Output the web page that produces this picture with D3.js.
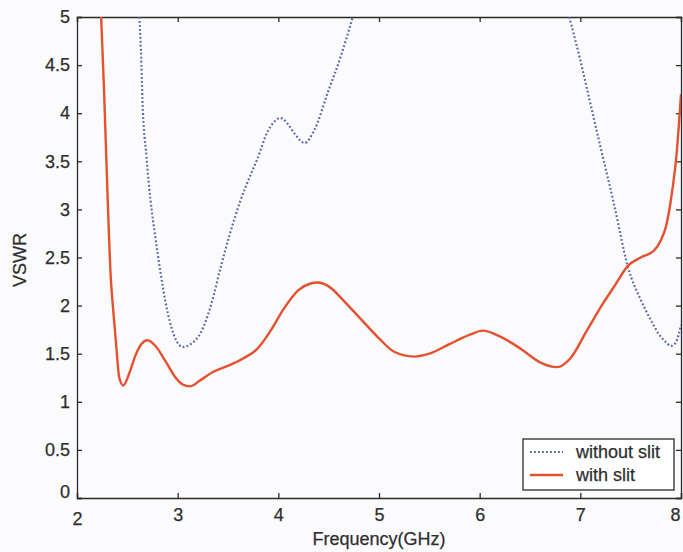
<!DOCTYPE html>
<html><head><meta charset="utf-8">
<script src="https://cdn.jsdelivr.net/npm/d3@7"></script>
<style>
body{margin:0;background:#fbfbfd;}
svg{display:block;}
text{font-family:"Liberation Sans",Arial,sans-serif;fill:#2e2e2e;stroke:#2e2e2e;stroke-width:0.25px;}
</style></head><body>
<svg id="chart" width="683" height="552"></svg>
<script>
// Data
const xTicks = [2,3,4,5,6,7,8];
const yTicks = [0,0.5,1,1.5,2,2.5,3,3.5,4,4.5,5];
const seriesNames = ["without slit","with slit"];
// without slit (null = gap where curve is above 5)
const freqWithout = [2.62,2.64,2.65,2.69,2.73,2.78,2.82,2.90,2.98,3.05,3.13,3.23,3.33,3.43,3.52,3.62,3.72,3.79,3.89,3.95,4.02,4.10,4.16,4.26,4.36,4.49,4.62,4.74,null,6.89,7.00,7.10,7.20,7.34,7.47,7.60,7.70,7.77,7.85,7.90,7.95,8.00];
const vswrWithout = [5.0,4.5,4.14,3.55,3.10,2.70,2.41,1.93,1.65,1.57,1.60,1.72,2.00,2.41,2.75,3.08,3.35,3.52,3.80,3.90,3.95,3.88,3.79,3.69,3.83,4.21,4.59,5.0,null,5.0,4.55,4.10,3.65,3.03,2.41,2.06,1.85,1.72,1.62,1.58,1.62,1.80];
// with slit
const freqWith = [2.24,2.27,2.305,2.335,2.36,2.39,2.42,2.46,2.52,2.58,2.64,2.70,2.78,2.88,2.98,3.05,3.12,3.22,3.35,3.49,3.65,3.79,3.93,4.05,4.20,4.32,4.39,4.50,4.65,4.82,5.00,5.15,5.35,5.50,5.70,5.91,6.03,6.20,6.41,6.60,6.77,6.90,7.07,7.23,7.35,7.47,7.60,7.73,7.80,7.85,7.90,7.96,8.00];
const vswrWith = [5.0,4.2,3.1,2.3,1.95,1.58,1.25,1.17,1.30,1.48,1.60,1.64,1.58,1.42,1.25,1.18,1.16,1.22,1.31,1.37,1.45,1.55,1.75,1.96,2.16,2.23,2.24,2.20,2.05,1.86,1.66,1.52,1.47,1.50,1.60,1.70,1.74,1.68,1.55,1.41,1.36,1.45,1.75,2.03,2.22,2.41,2.50,2.57,2.68,2.82,3.10,3.62,4.20];

const L=77,R=681,T=17,B=498;
const svg=d3.select("#chart");
const x=d3.scaleLinear().domain([2,8]).range([L,R]);
const y=d3.scaleLinear().domain([0,5]).range([B,T]);

svg.append("defs").append("clipPath").attr("id","clip")
  .append("rect").attr("x",L).attr("y",T).attr("width",R-L).attr("height",B-T);

svg.append("rect").attr("x",L).attr("y",T).attr("width",R-L).attr("height",B-T).attr("fill","#fbfbfd");

// axes
const fs=18;
const gx=svg.append("g").attr("transform",`translate(0,${B})`)
  .call(d3.axisBottom(x).tickValues(xTicks).tickSize(-5).tickPadding(10).tickFormat(d3.format("d")));
const gxt=svg.append("g").attr("transform",`translate(0,${T})`)
  .call(d3.axisTop(x).tickValues(xTicks).tickSize(-5).tickFormat(""));
const gy=svg.append("g").attr("transform",`translate(${L},0)`)
  .call(d3.axisLeft(y).tickValues(yTicks).tickSize(-5).tickPadding(7).tickFormat(d=>String(d)));
const gyr=svg.append("g").attr("transform",`translate(${R},0)`)
  .call(d3.axisRight(y).tickValues(yTicks).tickSize(-5).tickFormat(""));
[gx,gxt,gy,gyr].forEach(g=>{
  g.select(".domain").attr("stroke","#2a2a2a").attr("stroke-width",1.3);
  g.selectAll(".tick line").attr("stroke","#2a2a2a").attr("stroke-width",1.3);
  g.selectAll(".tick text").attr("font-size",fs).attr("fill","#2e2e2e")
   .style("font-family","'Liberation Sans',Arial,sans-serif");
});
gx.selectAll(".tick text").attr("dy","0.71em");
// MATLAB-style corner labels
gy.selectAll(".tick text").filter(d=>d===0).attr("dy","-0.05em");
gx.selectAll(".tick text").filter(d=>d===2).attr("dy","0.95em");
// keep last x label inside the canvas
gx.selectAll(".tick text").filter(d=>d===8).attr("text-anchor","end").attr("x",-1);

// lines
const lineGen=d3.line().defined(d=>d[0]!==null&&d[1]!==null).x(d=>x(d[0])).y(d=>y(d[1])).curve(d3.curveMonotoneX);
const dataWithout=freqWithout.map((f,i)=>[f,vswrWithout[i]]);
const dataWith=freqWith.map((f,i)=>[f,vswrWith[i]]);
const plot=svg.append("g").attr("clip-path","url(#clip)");
plot.append("path").datum(dataWithout).attr("d",lineGen)
  .attr("fill","none").attr("stroke","#5a66ae").attr("stroke-width",2.2)
  .attr("stroke-dasharray","1.8,2.2");
plot.append("path").datum(dataWith).attr("d",lineGen)
  .attr("fill","none").attr("stroke","#e6502e").attr("stroke-width",2.4);

// axis labels
svg.append("text").attr("x",(L+R)/2).attr("y",545).attr("text-anchor","middle")
  .attr("font-size",fs).text("Frequency(GHz)");
svg.append("text").attr("transform",`translate(26,260) rotate(-90)`).attr("text-anchor","middle")
  .attr("font-size",fs).text("VSWR");

// legend
const lg=svg.append("g");
lg.append("rect").attr("x",523).attr("y",439).attr("width",151).attr("height",51)
  .attr("fill","#ffffff").attr("stroke","#2a2a2a").attr("stroke-width",1.3);
const styles=[{c:"#5a66ae",dash:"1.8,2.2",w:2.2},{c:"#e6502e",dash:null,w:2.4}];
seriesNames.forEach((n,i)=>{
  const yy=452+i*23;
  lg.append("line").attr("x1",530).attr("x2",563).attr("y1",yy).attr("y2",yy)
    .attr("stroke",styles[i].c).attr("stroke-width",styles[i].w)
    .attr("stroke-dasharray",styles[i].dash);
  lg.append("text").attr("x",576).attr("y",yy).attr("dy","0.35em").attr("font-size",fs).text(n);
});
</script>
</body></html>
